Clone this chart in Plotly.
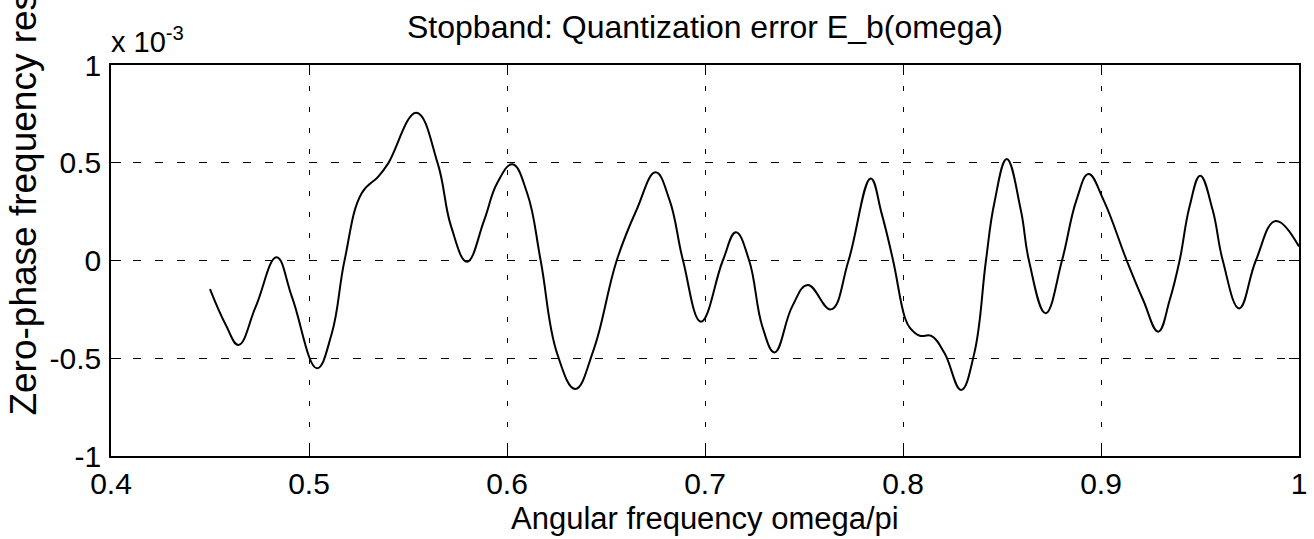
import plotly.graph_objects as go

# Angular frequency omega/pi
omega = [0.4500, 0.4580, 0.4644, 0.4731, 0.4836, 0.4915, 0.5040, 0.5115, 0.5180,
         0.5266, 0.5350, 0.5400, 0.5542, 0.5650, 0.5718, 0.5798, 0.5885, 0.5950,
         0.6027, 0.6102, 0.6170, 0.6253, 0.6345, 0.6437, 0.6554, 0.6654, 0.6750,
         0.6821, 0.6889, 0.6980, 0.7090, 0.7156, 0.7223, 0.7290, 0.7352, 0.7440,
         0.7519, 0.7636, 0.7725, 0.7837, 0.7892, 0.7950, 0.8009, 0.8035, 0.8085,
         0.8143, 0.8210, 0.8293, 0.8360, 0.8419, 0.8461, 0.8524, 0.8595, 0.8636,
         0.8720, 0.8803, 0.8876, 0.8937, 0.9013, 0.9130, 0.9213, 0.9289, 0.9347,
         0.9397, 0.9447, 0.9501, 0.9564, 0.9615, 0.9698, 0.9782, 0.9882, 1.0000]
# Quantization error E_b in units of 1e-3
error_e3 = [-0.147, -0.330, -0.432, -0.236, 0.016, -0.190, -0.551, -0.373, 0.003,
            0.344, 0.429, 0.497, 0.756, 0.497, 0.173, -0.006, 0.207, 0.395,
            0.492, 0.344, 0.000, -0.475, -0.657, -0.458, 0.000, 0.258, 0.451,
            0.309, 0.000, -0.313, 0.000, 0.144, 0.000, -0.339, -0.470, -0.236,
            -0.125, -0.250, 0.000, 0.420, 0.241, 0.000, -0.290, -0.345, -0.385,
            -0.386, -0.475, -0.662, -0.475, 0.000, 0.293, 0.519, 0.258, 0.000,
            -0.270, 0.000, 0.309, 0.442, 0.309, 0.000, -0.202, -0.364, -0.202,
            0.000, 0.275, 0.434, 0.258, 0.000, -0.245, 0.000, 0.202, 0.071]

x_ticks = [0.4, 0.5, 0.6, 0.7, 0.8, 0.9, 1.0]
x_ticktext = ["0.4", "0.5", "0.6", "0.7", "0.8", "0.9", "1"]
y_ticks = [-1, -0.5, 0, 0.5, 1]
y_ticktext = ["-1", "-0.5", "0", "0.5", "1"]

FONT = "Liberation Sans, Arial, Helvetica, sans-serif"

fig = go.Figure()
fig.add_trace(go.Scatter(x=omega, y=error_e3, mode="lines",
                         line=dict(color="black", width=2, shape="spline", smoothing=1.2),
                         showlegend=False, hoverinfo="x+y"))

axis_common = dict(showline=True, linecolor="black", linewidth=1.5, mirror="allticks",
                   ticks="inside", ticklen=10, tickwidth=1, tickcolor="black",
                   showgrid=True, gridcolor="black", gridwidth=1, zeroline=False,
                   tickfont=dict(family=FONT, size=30, color="black"))

fig.update_xaxes(range=[0.4, 1.0], tickvals=x_ticks, ticktext=x_ticktext,
                 griddash="5px,16px", ticklabelstandoff=0, **axis_common)
fig.update_yaxes(range=[-1, 1], tickvals=y_ticks, ticktext=y_ticktext,
                 griddash="8px,14px", ticklabelstandoff=2, **axis_common)

W, H = 1314, 539
ml, mr, mt, mb = 111, 7, 65, 83
plot_h = H - mt - mb
plot_w = W - ml - mr

def py(pix):
    return (H - mb - pix) / plot_h

def px(pix):
    return (pix - ml) / plot_w

annotations = [
    dict(text="Stopband: Quantization error E_b(omega)", x=0.5, y=py(27),
         xref="paper", yref="paper", xanchor="center", yanchor="middle",
         showarrow=False, font=dict(family=FONT, size=32, color="black")),
    dict(text="Angular frequency omega/pi", x=0.5, y=py(518),
         xref="paper", yref="paper", xanchor="center", yanchor="middle",
         showarrow=False, font=dict(family=FONT, size=31, color="black")),
    dict(text="Zero-phase frequency response", x=px(22), y=py(418),
         xref="paper", yref="paper", xanchor="center", yanchor="bottom",
         textangle=-90, showarrow=False,
         font=dict(family=FONT, size=37, color="black")),
    dict(text="x 10<sup>-3</sup>", x=px(109), y=py(60),
         xref="paper", yref="paper", xanchor="left", yanchor="bottom",
         showarrow=False, font=dict(family=FONT, size=29, color="black")),
]

fig.update_layout(width=W, height=H, margin=dict(l=ml, r=mr, t=mt, b=mb),
                  paper_bgcolor="white", plot_bgcolor="white",
                  font=dict(family=FONT, color="black"),
                  annotations=annotations)

fig.write_html("out.html")
